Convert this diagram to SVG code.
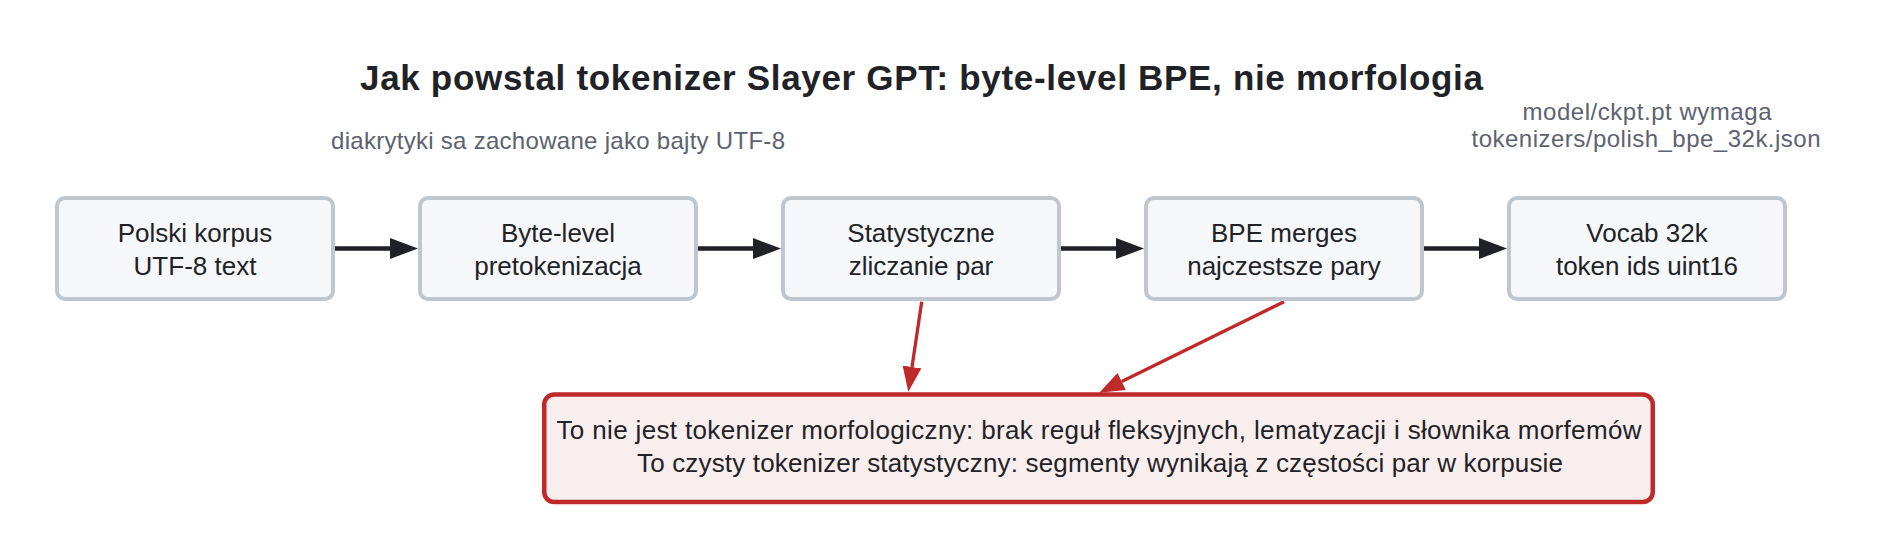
<svg xmlns="http://www.w3.org/2000/svg" width="1887" height="559" viewBox="0 0 1887 559">
<style>
text{font-family:"Liberation Sans",Arial,sans-serif;fill:#1f2227}
.title{font-size:35px;font-weight:bold;text-anchor:middle}
.sub{font-size:24px;fill:#5c6270;text-anchor:middle}
.lbl{font-size:26px;text-anchor:middle}
.node rect{fill:#f5f7fa;stroke:#c0c6cf;stroke-width:4}
.note rect{fill:#f9eeee;stroke:#c0292a;stroke-width:4.5}
.flow{stroke:#1f2126;stroke-width:4.5;fill:none}
.warn{stroke:#c0292a;stroke-width:3.3;fill:none}
</style>
<defs>
<marker id="ah" markerUnits="userSpaceOnUse" markerWidth="28" markerHeight="21" viewBox="0 0 28 21" refX="0" refY="10.5" orient="auto"><path d="M0,0 L28,10.5 L0,21 z" fill="#1f2126"/></marker>
<marker id="rh" markerUnits="userSpaceOnUse" markerWidth="25" markerHeight="19" viewBox="0 0 25 19" refX="0" refY="9.5" orient="auto"><path d="M0,0 L25,9.5 L0,19 z" fill="#c0292a"/></marker>
</defs>
<rect width="1887" height="559" fill="#ffffff"/>
<text class="title" x="921.5" y="90" textLength="1123">Jak powstal tokenizer Slayer GPT: byte-level BPE, nie morfologia</text>
<text class="sub" x="558" y="149" textLength="454">diakrytyki sa zachowane jako bajty UTF-8</text>
<text class="sub" x="1647" y="120" textLength="249">model/ckpt.pt wymaga</text>
<text class="sub" x="1646" y="147" textLength="349">tokenizers/polish_bpe_32k.json</text>
<g id="connectors">
<line class="flow" x1="335" y1="248.5" x2="390" y2="248.5" marker-end="url(#ah)"/>
<line class="flow" x1="698" y1="248.5" x2="753" y2="248.5" marker-end="url(#ah)"/>
<line class="flow" x1="1061" y1="248.5" x2="1116" y2="248.5" marker-end="url(#ah)"/>
<line class="flow" x1="1424" y1="248.5" x2="1479" y2="248.5" marker-end="url(#ah)"/>
<line class="warn" x1="921.7" y1="301.7" x2="912" y2="367" marker-end="url(#rh)"/>
<line class="warn" x1="1284" y1="301.7" x2="1121.7" y2="381.6" marker-end="url(#rh)"/>
</g>
<g id="n1" class="node"><rect x="57" y="198" width="276" height="101" rx="8"/><text class="lbl" x="195" y="242">Polski korpus</text><text class="lbl" x="195" y="275">UTF-8 text</text></g>
<g id="n2" class="node"><rect x="420" y="198" width="276" height="101" rx="8"/><text class="lbl" x="558" y="242">Byte-level</text><text class="lbl" x="558" y="275">pretokenizacja</text></g>
<g id="n3" class="node"><rect x="783" y="198" width="276" height="101" rx="8"/><text class="lbl" x="921" y="242">Statystyczne</text><text class="lbl" x="921" y="275">zliczanie par</text></g>
<g id="n4" class="node"><rect x="1146" y="198" width="276" height="101" rx="8"/><text class="lbl" x="1284" y="242">BPE merges</text><text class="lbl" x="1284" y="275">najczestsze pary</text></g>
<g id="n5" class="node"><rect x="1509" y="198" width="276" height="101" rx="8"/><text class="lbl" x="1647" y="242">Vocab 32k</text><text class="lbl" x="1647" y="275">token ids uint16</text></g>
<g id="note" class="note"><rect x="544.25" y="394.5" width="1108.5" height="107.5" rx="10"/><text class="lbl" x="1099" y="439" textLength="1085">To nie jest tokenizer morfologiczny: brak reguł fleksyjnych, lematyzacji i słownika morfemów</text><text class="lbl" x="1100" y="472" textLength="926">To czysty tokenizer statystyczny: segmenty wynikają z częstości par w korpusie</text></g>
</svg>
